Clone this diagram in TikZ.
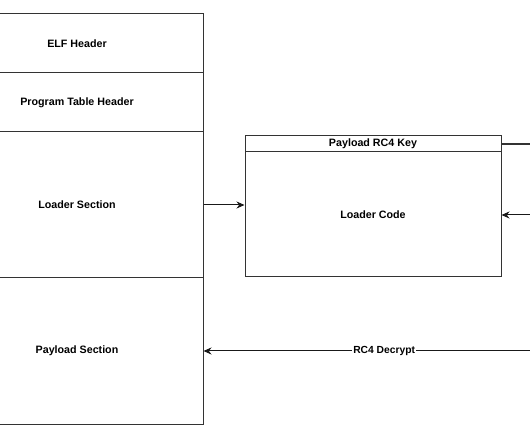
\documentclass[tikz,border=0pt]{standalone}
\usepackage{fontspec}
\setmainfont{Liberation Sans}
\usetikzlibrary{arrows.meta}
\tikzset{
	sect/.style={draw=black!80,line width=1pt,rectangle,inner sep=0pt,minimum width=#1,font=\fontsize{10.7}{13}\selectfont\bfseries},
	conn/.style={draw=black!90,line width=1pt,-{Stealth[length=8pt,width=7pt]}},
}
\begin{document}
\begin{tikzpicture}[x=1pt,y=-1pt]
					\clip (0,0) rectangle (530,443);
					% left stack of sections
					\node[sect=252,minimum height=59] (elf) at (77,43.5) {ELF Header};
					\node[sect=252,minimum height=59] (pth) at (77,102.5) {Program Table Header};
					\node[sect=252,minimum height=146] (loader) at (77,205) {Loader Section};
					\node[sect=252,minimum height=146] (payload) at (77,351) {Payload Section};
					% loader block
					\node[sect=256,minimum height=16] (key) at (373,144) {Payload RC4 Key};
					\node[sect=256,minimum height=125] (code) at (373,214.5) {Loader Code};
					\coordinate (k) at (532,144);
					\coordinate (x) at (532,215);
					\coordinate (d) at (532,351);
					\draw[conn] (loader.east) -- (loader.east -| code.west);
					\draw[draw=black!80,line width=1.5pt] (key.east) -- (k);
					\draw[conn] (x) -- (x -| code.east);
					\draw[conn] (d) -- (payload.east) node[pos=0.45,fill=white,inner sep=1pt,font=\fontsize{10.3}{12}\selectfont\bfseries] {RC4 Decrypt};
				\end{tikzpicture}
\end{document}
